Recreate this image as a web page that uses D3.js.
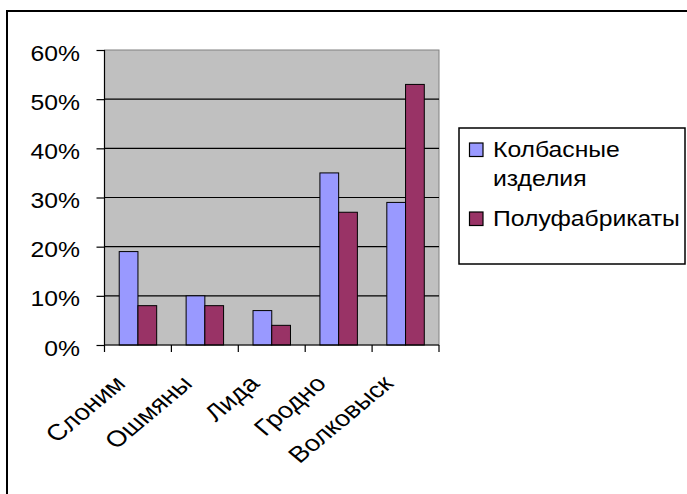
<!DOCTYPE html>
<html><head><meta charset="utf-8">
<script src="https://cdn.jsdelivr.net/npm/d3@7"></script>
<style>html,body{margin:0;padding:0;background:#fff;overflow:hidden}svg{display:block}text{font-family:"Liberation Sans",Arial,sans-serif;fill:#000}</style>
</head><body>
<script>
const categories = ["Слоним", "Ошмяны", "Лида", "Гродно", "Волковыск"];
const seriesNames = ["Колбасные изделия", "Полуфабрикаты"];
const sausages = [0.19, 0.10, 0.07, 0.35, 0.29];
const semiFinished = [0.08, 0.08, 0.04, 0.27, 0.53];
const yTicks = [0, 0.1, 0.2, 0.3, 0.4, 0.5, 0.6];
const colors = ["#9999FF", "#993366"];

const W = 687, H = 494;
const FS = 21.5, SX = 1.15;
const FSX = 22.5, SXX = 1.2;
const svg = d3.select("body").append("svg").attr("width", W).attr("height", H);

// outer chart border (extends beyond view on right/bottom)
svg.append("rect").attr("x", 7).attr("y", 11).attr("width", 720).attr("height", 520)
  .attr("fill", "#fff").attr("stroke", "#000").attr("stroke-width", 2);

const plot = {l: 104.5, r: 439, t: 50, b: 345};
const y = d3.scaleLinear().domain([0, 0.6]).range([plot.b, plot.t]);
const xCat = d3.scaleBand().domain(categories).range([plot.l, plot.r]).padding(0);
const x0 = d3.scaleBand().domain(categories).range([plot.l, plot.r]).paddingInner(0.44).paddingOuter(0.22);
const x1 = d3.scaleBand().domain([0, 1]).range([0, x0.bandwidth()]);

// plot area
svg.append("rect").attr("x", plot.l).attr("y", plot.t).attr("width", plot.r - plot.l).attr("height", plot.b - plot.t)
  .attr("fill", "#C0C0C0").attr("stroke", "#808080").attr("stroke-width", 1);

// gridlines
svg.append("g").selectAll("line").data(yTicks.filter(d => d > 0 && d < 0.6)).join("line")
  .attr("x1", plot.l).attr("x2", plot.r).attr("y1", d => y(d)).attr("y2", d => y(d))
  .attr("stroke", "#000").attr("stroke-width", 1.2);

// bars
const data = [sausages, semiFinished];
const g = svg.append("g");
categories.forEach((c, i) => {
  data.forEach((s, k) => {
    g.append("rect").attr("x", x0(c) + x1(k)).attr("y", y(s[i]))
      .attr("width", x1.bandwidth()).attr("height", y(0) - y(s[i]))
      .attr("fill", colors[k]).attr("stroke", "#000").attr("stroke-width", 1);
  });
});

// y axis
const yAxis = svg.append("g").attr("transform", `translate(${plot.l},0)`)
  .call(d3.axisLeft(y).tickValues(yTicks).tickSize(8).tickFormat(d3.format(".0%")));
yAxis.select(".domain").attr("stroke", "#000").attr("stroke-width", 1.2).attr("d", `M0,${plot.t}V${plot.b}`);
yAxis.selectAll(".tick line").attr("stroke", "#000").attr("stroke-width", 1.2);
yAxis.selectAll(".tick text").each(function(d) {
  const t = d3.select(this);
  t.attr("x", null).attr("dy", null).attr("y", null)
    .attr("font-size", FS).attr("font-family", '"Liberation Sans",Arial,sans-serif')
    .attr("text-anchor", "end")
    .attr("transform", `translate(-24.5,10) scale(${SX},1)`);
});

// x axis
const xAxis = svg.append("g").attr("transform", `translate(0,${plot.b})`);
xAxis.append("line").attr("x1", plot.l).attr("x2", plot.r).attr("stroke", "#000").attr("stroke-width", 1.2);
const tickPos = categories.map(c => xCat(c)).concat([xCat(categories[categories.length - 1]) + xCat.bandwidth()]);
xAxis.selectAll("line.tk").data(tickPos).join("line").attr("class", "tk")
  .attr("x1", d => d).attr("x2", d => d).attr("y1", 0).attr("y2", 7)
  .attr("stroke", "#000").attr("stroke-width", 1.2);
xAxis.selectAll("text").data(categories).join("text")
  .attr("font-size", FSX).attr("text-anchor", "end")
  .attr("transform", d => `translate(${xCat(d) + xCat.bandwidth() / 2 - 11},40) scale(${SXX},1) rotate(-45)`)
  .text(d => d);

// legend
const lg = svg.append("g");
lg.append("rect").attr("x", 459).attr("y", 128).attr("width", 226).attr("height", 136)
  .attr("fill", "#fff").attr("stroke", "#000").attr("stroke-width", 1.5);
const legendRows = [
  {lines: ["Колбасные", "изделия"], sy: 143, by: 157},
  {lines: ["Полуфабрикаты"], sy: 212, by: 226}
];
legendRows.forEach((r, k) => {
  lg.append("rect").attr("x", 469.5).attr("y", r.sy).attr("width", 13.5).attr("height", 13.5)
    .attr("fill", colors[k]).attr("stroke", "#000").attr("stroke-width", 1.2);
  r.lines.forEach((ln, j) => {
    lg.append("text").attr("font-size", FS)
      .attr("transform", `translate(493,${r.by + j * 29}) scale(${SX},1)`).text(ln);
  });
});
</script>
</body></html>
